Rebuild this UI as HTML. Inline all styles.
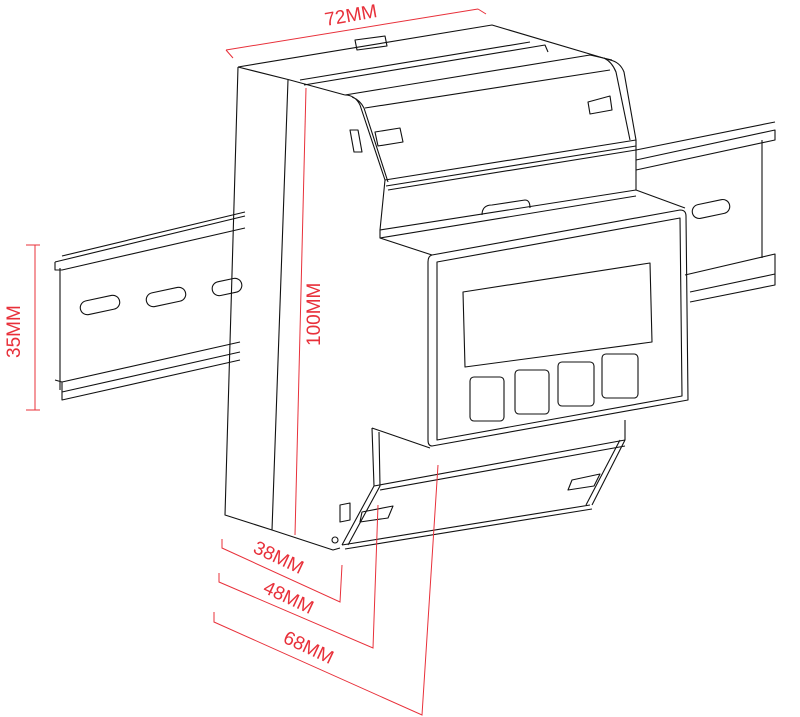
<!DOCTYPE html>
<html><head><meta charset="utf-8"><style>
html,body{margin:0;padding:0;background:#fff}
svg{display:block}
text{font-family:"Liberation Sans",sans-serif;fill:#e8303a;font-size:19px}
</style></head><body>
<svg width="800" height="717" viewBox="0 0 800 717" xmlns="http://www.w3.org/2000/svg">
<g fill="none" stroke="#111" stroke-width="1.1" stroke-linejoin="round">
<path d="M55 262 L245 216 M62 256 L245 212 M55 262 L55 270 L62 270 L245 228 M60 268 L60 390 M55 380 L62 382 L62 400 L240 360 M62 392 L240 352 M62 382 L240 342"/>
<rect x="80" y="298" width="40" height="14" rx="7" transform="rotate(-12 100 305)"/>
<rect x="146" y="290" width="40" height="14" rx="7" transform="rotate(-12 166 297)"/>
<rect x="212" y="280" width="30" height="14" rx="7" transform="rotate(-12 227 287)"/>
<path d="M636 160 L775 130 L775 140 L636 170 M636 150 L775 122 M685 275 L775 254 L775 285 L690 302 M690 292 L775 274"/>
<path d="M762 140 L762 258"/>
<rect x="692" y="202" width="38" height="14" rx="7" transform="rotate(-12 711 209)"/>
<path d="M238 67 L492 25 L610 60 M238 67 L290 80 L345 95 M238 67 L225 515 L272 530 L333 550 L340 548 M288 80 L272 530"/>
<path d="M300 80 L530 42 M304 85 L545 45 L548 52 M345 95 L590 55 L612 60"/>
<path d="M355 40 L385 36 L387 46 L357 50 Z"/>
<path d="M345 95 Q355 95 360 105 L385 180 L380 230 M352 97 Q360 100 364 108 L388 182 M610 60 Q620 62 624 72 L636 140 L636 190 M604 58 Q612 62 616 72 L630 140"/>
<path d="M385 180 L636 140 M386 186 L636 146 M388 190 L636 150 M365 108 L610 70"/>
<path d="M375 132 L400 128 L403 142 L378 146 Z M350 130 L358 130 L362 152 L354 152 Z M588 102 L610 96 L612 110 L590 114 Z"/>
<path d="M482 215 Q482 205 492 205 L525 200 Q530 200 530 208"/>
<path d="M380 230 L636 190 L685 208 M380 230 L380 238 L432 255 M380 238 L636 196"/>
<path d="M432 255 L680 210 Q686 210 686 216 L688 400 L432 446 Q428 446 428 440 L428 262 Q428 256 432 255 Z"/>
<path d="M437 262 L680 218 L682 396 L437 440 Z"/>
<path d="M463 292 L650 263 L652 342 L465 367 Z"/>
<rect x="470" y="377" width="34" height="44" rx="4"/>
<rect x="515" y="370" width="34" height="44" rx="4"/>
<rect x="558" y="362" width="36" height="44" rx="4"/>
<rect x="602" y="354" width="36" height="44" rx="4"/>
<path d="M372 428 L430 448 M372 428 L374 486 L342 545 M379 432 L380 486 L348 545 M374 486 L625 440 M380 490 L625 446 M625 420 L625 440 L592 505 M620 440 L586 505 M342 545 L590 505 M345 549 L592 509"/>
<path d="M362 512 L393 506 L388 518 L360 522 Z M572 480 L600 474 L594 486 L568 490 Z M340 505 L350 503 L350 520 L340 522 Z"/>
<circle cx="335" cy="540" r="3"/>
</g>
<g stroke="#e8303a" stroke-width="1" fill="none">
<path d="M226 50 L478 9 M226 50 L233 58 M478 9 L486 14"/>
<path d="M26 245 L40 245 M35 245 L35 410 M26 410 L40 410"/>
<path d="M306 88 L295 535"/>
<path d="M222 539 L222 548 L340 602 L342 565"/>
<path d="M219 573 L219 582 L373 648 L378 505"/>
<path d="M214 612 L214 622 L422 715 L438 465"/>
</g>
<text x="326" y="26" transform="rotate(-10 326 26)">72MM</text>
<text x="20" y="358" transform="rotate(-90 20 358)">35MM</text>
<text x="320" y="346" transform="rotate(-90 320 346)">100MM</text>
<text x="252" y="552" transform="rotate(25 252 552)">38MM</text>
<text x="262" y="592" transform="rotate(25 262 592)">48MM</text>
<text x="282" y="642" transform="rotate(25 282 642)">68MM</text>
</svg>
</body></html>
